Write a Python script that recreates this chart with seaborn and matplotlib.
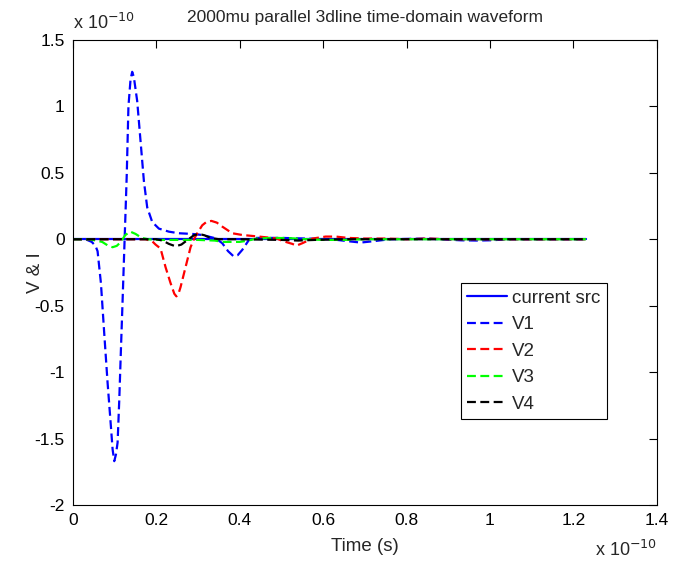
import matplotlib
matplotlib.use("Agg")
import matplotlib.pyplot as plt
import seaborn as sns
import pandas as pd

# ---- data (values in units of 1e-10) ----
t_src = [0, 1.23]
src = [0, 0]

t_v1 = [0, 0.03, 0.045, 0.054, 0.059, 0.067, 0.075, 0.083, 0.091, 0.095,
        0.099, 0.103, 0.107, 0.111, 0.115, 0.119, 0.123, 0.126, 0.129, 0.133,
        0.138, 0.142, 0.146, 0.154, 0.162, 0.17, 0.178, 0.19, 0.206, 0.23,
        0.254, 0.286, 0.31, 0.342, 0.358, 0.372, 0.385, 0.395, 0.406, 0.422,
        0.44, 0.5, 0.56, 0.62, 0.66, 0.69, 0.72, 0.76, 0.85, 0.93,
        0.97, 1.0, 1.05, 1.1, 1.23]
v1 = [0, 0, -0.02, -0.05, -0.09, -0.33, -0.71, -1.08, -1.41, -1.58,
      -1.67, -1.62, -1.53, -1.21, -0.83, -0.46, -0.08, 0.2, 0.49, 1.0,
      1.2, 1.26, 1.22, 1.04, 0.74, 0.44, 0.24, 0.13, 0.08, 0.057,
      0.045, 0.04, 0.032, 0.007, -0.03, -0.09, -0.128, -0.12, -0.08, -0.005,
      0.01, 0.01, 0.005, 0.0, -0.015, -0.025, -0.015, 0.0, 0.005, -0.008,
      -0.01, -0.008, 0, 0, 0]

t_v2 = [0, 0.15, 0.174, 0.19, 0.198, 0.21, 0.222, 0.234, 0.243, 0.248,
        0.253, 0.258, 0.27, 0.282, 0.29, 0.298, 0.31, 0.32, 0.332, 0.345,
        0.358, 0.382, 0.406, 0.446, 0.486, 0.51, 0.526, 0.536, 0.55, 0.574,
        0.606, 0.63, 0.66, 0.7, 0.75, 0.8, 0.85, 0.9, 1.0, 1.1,
        1.23]
v2 = [0, 0, 0, -0.015, -0.04, -0.07, -0.21, -0.33, -0.41, -0.43,
      -0.41, -0.36, -0.21, -0.06, 0.0, 0.045, 0.105, 0.13, 0.138, 0.125,
      0.095, 0.045, 0.032, 0.02, 0.007, -0.02, -0.035, -0.048, -0.03, 0.005,
      0.02, 0.02, 0.01, 0.005, 0.005, 0.0, 0.005, 0.0, 0, 0,
      0]

t_v3 = [0, 0.04, 0.07, 0.085, 0.095, 0.105, 0.115, 0.125, 0.137, 0.15,
        0.165, 0.18, 0.2, 0.25, 0.3, 0.34, 0.36, 0.38, 0.4, 0.42,
        0.44, 0.48, 0.52, 0.56, 0.6, 0.65, 0.7, 0.8, 0.9, 1.0,
        1.23]
v3 = [0, 0, -0.02, -0.05, -0.06, -0.05, -0.02, 0.03, 0.058, 0.04,
      0.01, 0.0, -0.005, -0.005, -0.005, -0.01, -0.02, -0.02, -0.02, -0.01,
      0.005, 0.01, 0.008, 0.0, -0.005, -0.005, 0.0, 0.0, 0, 0,
      0]

t_v4 = [0, 0.2, 0.215, 0.23, 0.246, 0.26, 0.275, 0.29, 0.302, 0.315,
        0.33, 0.35, 0.4, 0.5, 0.54, 0.58, 0.65, 0.8, 1.0, 1.23]
v4 = [0, 0, -0.01, -0.035, -0.053, -0.04, -0.005, 0.03, 0.04, 0.03,
      0.01, 0.0, 0.0, -0.005, -0.01, -0.005, 0, 0, 0, 0]

x_ticks = [0, 0.2, 0.4, 0.6, 0.8, 1.0, 1.2, 1.4]
x_ticklabels = ["0", "0.2", "0.4", "0.6", "0.8", "1", "1.2", "1.4"]
y_ticks = [-2, -1.5, -1, -0.5, 0, 0.5, 1, 1.5]
y_ticklabels = ["-2", "-1.5", "-1", "-0.5", "0", "0.5", "1", "1.5"]

series = [
    ("current src", t_src, src, (0, 0, 1), "-"),
    ("V1", t_v1, v1, (0, 0, 1), (0, (4, 2))),
    ("V2", t_v2, v2, (1, 0, 0), (0, (4, 2))),
    ("V3", t_v3, v3, (0, 1, 0), (0, (4, 2))),
    ("V4", t_v4, v4, (0, 0, 0), (0, (4, 2))),
]

sns.set_style("white")
plt.rcParams["font.family"] = ["Liberation Sans", "DejaVu Sans"]
plt.rcParams["font.size"] = 12

fig = plt.figure(figsize=(6.82, 5.70), dpi=100)
ax = fig.add_axes([0.107, 0.114, 0.856, 0.816])

for name, tt, vv, col, ls in series:
    df = pd.DataFrame({"t": tt, "v": vv})
    sns.lineplot(data=df, x="t", y="v", ax=ax, color=col, linestyle=ls,
                 linewidth=1.6, label=name, estimator=None, sort=False)

ax.set_xlim(0, 1.4)
ax.set_ylim(-2, 1.5)
ax.set_xticks(x_ticks)
ax.set_xticklabels(x_ticklabels)
ax.set_yticks(y_ticks)
ax.set_yticklabels(y_ticklabels)
ax.tick_params(direction="in", length=6, width=0.8, top=True, right=True,
               labelsize=12.5, colors="black", pad=6)
for s in ax.spines.values():
    s.set_visible(True)
    s.set_color("black")
    s.set_linewidth(0.8)

ax.set_xlabel("Time (s)", fontsize=13.5)
ax.xaxis.set_label_coords(0.5, -0.07)
ax.set_ylabel("V & I", fontsize=13.5)
ax.yaxis.set_label_coords(-0.05, 0.5)
ax.set_title("2000mu parallel 3dline time-domain waveform", fontsize=12.5, pad=13)

ax.text(0.0, 1.015, r"x 10$^{-10}$", transform=ax.transAxes, fontsize=13,
        ha="left", va="bottom")
ax.text(1.0, -0.075, r"x 10$^{-10}$", transform=ax.transAxes, fontsize=13,
        ha="right", va="top")

leg = ax.legend(loc="upper left", bbox_to_anchor=(0.664, 0.477),
                borderaxespad=0.0,
                frameon=True, fancybox=False, framealpha=1, edgecolor="black",
                handlelength=2.1, labelspacing=0.5, borderpad=0.35,
                handletextpad=0.3, fontsize=13.5)
leg.get_frame().set_linewidth(0.8)

fig.savefig("out.png", dpi=100, facecolor="white")
